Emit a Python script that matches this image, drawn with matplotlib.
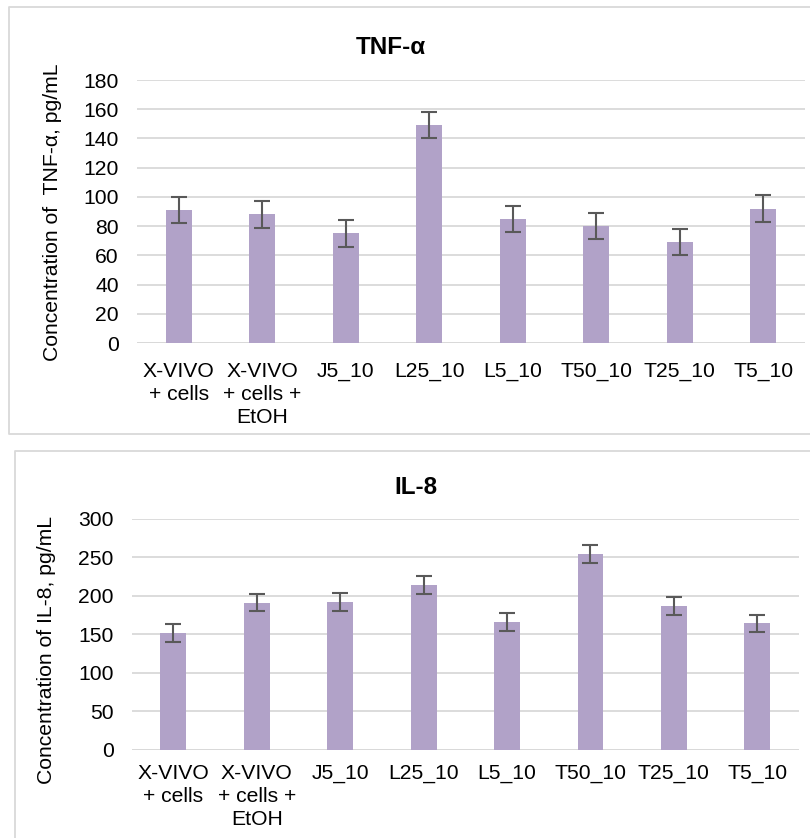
#!/usr/bin/env python3
"""Bar charts of TNF-alpha and IL-8 concentrations with error bars"""

import numpy as np
import matplotlib.pyplot as plt
from matplotlib.lines import Line2D

plt.rcParams["font.family"] = ["Liberation Sans", "DejaVu Sans"]

groups = ["X-VIVO\n+ cells", "X-VIVO\n+ cells +\nEtOH", "J5_10", "L25_10",
          "L5_10", "T50_10", "T25_10", "T5_10"]
tnf = [91, 88, 75, 149, 85, 80, 69, 92]
tnf_err = [9, 9, 9, 9, 9, 9, 9, 9]
il8 = [152, 191, 192, 214, 166, 254, 187, 164]
il8_err = [11.5, 11.5, 11.5, 11.5, 11.5, 11.5, 11.5, 11.5]

bar_color = "#b1a2c8"
grid_color = "#d9d9d9"
W, H = 810, 838
FS = 15.2


def panel(fig, rect, values, errors, ymax, step, xpad):
    ax = fig.add_axes(rect)
    x = np.arange(len(groups))
    ax.bar(x, values, width=0.31, color=bar_color, zorder=3)
    ax.errorbar(x, values, yerr=errors, fmt="none", ecolor="#595959",
                elinewidth=1.5, capsize=6, capthick=1.5, zorder=4)
    ax.set_xlim(-0.5, len(groups) - 0.5)
    ax.set_ylim(0, ymax)
    ax.set_yticks(np.arange(0, ymax + 1, step))
    ax.set_xticks(x)
    ax.set_xticklabels(groups, linespacing=1.25)
    ax.grid(axis="y", color=grid_color, linewidth=1.3, zorder=0)
    for s in ax.spines.values():
        s.set_visible(False)
    ax.axhline(0, color=grid_color, linewidth=1.3, zorder=2)
    ax.tick_params(axis="both", length=0, labelsize=FS, colors="#000000")
    ax.tick_params(axis="y", pad=13)
    ax.tick_params(axis="x", pad=xpad)
    return ax


def frame_line(fig, xs, ys):
    fig.lines.append(Line2D([v / W for v in xs], [1 - v / H for v in ys],
                            transform=fig.transFigure, color=grid_color,
                            linewidth=1.3, solid_capstyle="butt"))


fig = plt.figure(figsize=(W / 100, H / 100), dpi=100)

# chart frames (cut off at the right and bottom edges of the picture)
frame_line(fig, [W, 8.5, 8.5, W], [7.5, 7.5, 434, 434])
frame_line(fig, [W, 14.7, 14.7], [451, 451, H])

panel(fig, [137 / W, 1 - 343 / H, 668 / W, 263 / H], tnf, tnf_err, 180, 20, 14)
panel(fig, [131.7 / W, 1 - 749.7 / H, 667.3 / W, 231 / H], il8, il8_err,
      300, 50, 10.5)

fig.text(391 / W, 1 - 54.3 / H, "TNF-α", ha="center", va="baseline",
         fontsize=17.5, fontweight="bold")
fig.text(416 / W, 1 - 494 / H, "IL-8", ha="center", va="baseline",
         fontsize=17.5, fontweight="bold")
fig.text(52 / W, 1 - 212.5 / H, "Concentration of  TNF-α, pg/mL",
         rotation=90, ha="center", va="center", fontsize=FS)
fig.text(46.5 / W, 1 - 649.5 / H, "Concentration of IL-8, pg/mL",
         rotation=90, ha="center", va="center", fontsize=FS)

fig.savefig("out.png", dpi=100)
